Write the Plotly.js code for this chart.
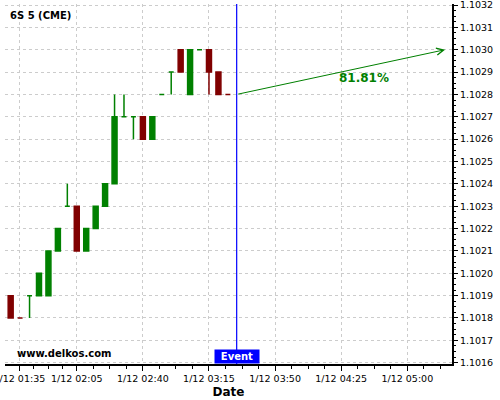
<!DOCTYPE html>
<html>
<head>
<meta charset="utf-8">
<script src="https://cdn.plot.ly/plotly-3.0.1.min.js"></script>
<style>html,body{margin:0;padding:0;background:#fff;}#chart{width:500px;height:400px;}</style>
</head>
<body>
<div id="chart"></div>
<script>
// ---- data ----
const times = [
  '2024-01-12 01:30','2024-01-12 01:35','2024-01-12 01:40','2024-01-12 01:45',
  '2024-01-12 01:50','2024-01-12 01:55','2024-01-12 02:00','2024-01-12 02:05',
  '2024-01-12 02:10','2024-01-12 02:15','2024-01-12 02:20','2024-01-12 02:25',
  '2024-01-12 02:30','2024-01-12 02:35','2024-01-12 02:40','2024-01-12 02:45',
  '2024-01-12 02:50','2024-01-12 02:55','2024-01-12 03:00','2024-01-12 03:05',
  '2024-01-12 03:10','2024-01-12 03:15','2024-01-12 03:20','2024-01-12 03:25'
];
const opens  = [1.1019,1.1018,1.1019,1.1019,1.1019,1.1021,1.1023,1.1023,1.1021,1.1022,1.1023,1.1024,
                1.1027,1.1027,1.1027,1.1026,1.1028,1.1029,1.1030,1.1028,1.1030,1.1030,1.1029,1.1028];
const highs  = [1.1019,1.1018,1.1019,1.1020,1.1021,1.1022,1.1024,1.1023,1.1022,1.1023,1.1024,1.1028,
                1.1028,1.1027,1.1027,1.1027,1.1028,1.1029,1.1030,1.1030,1.1030,1.1030,1.1029,1.1028];
const lows   = [1.1018,1.1018,1.1018,1.1019,1.1019,1.1021,1.1023,1.1021,1.1021,1.1022,1.1023,1.1024,
                1.1027,1.1026,1.1026,1.1026,1.1028,1.1028,1.1029,1.1028,1.1030,1.1028,1.1028,1.1028];
const closes = [1.1018,1.1018,1.1019,1.1020,1.1021,1.1022,1.1023,1.1021,1.1022,1.1023,1.1024,1.1027,
                1.1027,1.1027,1.1026,1.1027,1.1028,1.1029,1.1029,1.1030,1.1030,1.1029,1.1028,1.1028];
const direction = ['d','d','u','u','u','u','u','d','u','u','u','u',
                   'u','u','d','u','u','u','d','u','u','d','d','d'];

const eventTime = '2024-01-12 03:29:40';
const eventPrice = 1.1028;
const targetTime = '2024-01-12 05:20';
const targetPrice = 1.1030;
const probabilityText = '81.81%';

const xTickVals = ['2024-01-12 01:34:36','2024-01-12 02:05','2024-01-12 02:40','2024-01-12 03:15',
                   '2024-01-12 03:50','2024-01-12 04:25','2024-01-12 05:00'];
const xTickText = ['1/12 01:35','1/12 02:05','1/12 02:40','1/12 03:15','1/12 03:50','1/12 04:25','1/12 05:00'];

const GREEN = '#008000', RED = '#800000', BLUE = '#0000ff';

// minor ticks: each major interval split into quarters
function toMs(s) { return Date.parse(s.replace(' ', 'T') + 'Z'); }
const minorTickVals = [];
for (let i = 0; i < xTickVals.length - 1; i++) {
  const a = toMs(xTickVals[i]), b = toMs(xTickVals[i + 1]);
  for (let k = 1; k < 4; k++) minorTickVals.push(a + (b - a) * k / 4);
}
{
  const n = xTickVals.length;
  const a = toMs(xTickVals[n - 2]), b = toMs(xTickVals[n - 1]);
  for (let k = 1; k < 4; k++) minorTickVals.push(b + (b - a) * k / 4);
}

function subset(dir) {
  const idx = direction.map((d, i) => d === dir ? i : -1).filter(i => i >= 0);
  return {
    x: idx.map(i => times[i]), open: idx.map(i => opens[i]), high: idx.map(i => highs[i]),
    low: idx.map(i => lows[i]), close: idx.map(i => closes[i])
  };
}
function candleTrace(dir, color) {
  const s = subset(dir);
  return Object.assign({
    type: 'candlestick', whiskerwidth: 0, hoverinfo: 'skip',
    increasing: {line: {color: color, width: 1.5}, fillcolor: color},
    decreasing: {line: {color: color, width: 1.5}, fillcolor: color}
  }, s);
}

const data = [candleTrace('u', GREEN), candleTrace('d', RED)];

const gridStyle = {gridcolor: '#cccccc', griddash: 'dot', gridwidth: 1};

const layout = {
  width: 500, height: 400,
  margin: {l: 5, r: 48, t: 4, b: 36, pad: 0},
  paper_bgcolor: '#ffffff', plot_bgcolor: '#ffffff',
  showlegend: false,
  boxgap: 0.25,
  font: {family: 'DejaVu Sans', size: 9.5, color: '#000000'},
  title: {text: '<b>6S 5 (CME)</b>', x: 0.02, xanchor: 'left', y: 0.961, yanchor: 'middle',
          font: {size: 10, color: '#000000'}},
  xaxis: Object.assign({
    type: 'date', range: ['2024-01-12 01:27:00', '2024-01-12 05:23:40'],
    tickmode: 'array', tickvals: xTickVals, ticktext: xTickText,
    ticklabeloverflow: 'allow',
    ticks: 'outside', ticklen: 5, tickcolor: '#000000', tickwidth: 1,
    showline: true, linecolor: '#000000', linewidth: 2, mirror: false,
    showgrid: true, zeroline: false, fixedrange: true,
    rangeslider: {visible: false},
    minor: {tickmode: 'array', tickvals: minorTickVals, ticks: 'outside', ticklen: 3,
            tickcolor: '#000000', showgrid: false, gridcolor: 'rgba(0,0,0,0)'},
    title: {text: '<b>Date</b>', font: {size: 12}, standoff: 4}
  }, gridStyle),
  yaxis: Object.assign({
    side: 'right', range: [1.1015942, 1.1032045],
    tickmode: 'linear', tick0: 1.1016, dtick: 0.0001, tickformat: '.4f',
    ticklabeloverflow: 'allow',
    ticks: 'outside', ticklen: 4, tickcolor: '#000000',
    showline: true, linecolor: '#000000', linewidth: 2,
    showgrid: true, zeroline: false, fixedrange: true,
    minor: {dtick: 0.000025, ticks: 'outside', ticklen: 2, tickcolor: '#000000',
            showgrid: false, gridcolor: 'rgba(0,0,0,0)'}
  }, gridStyle),
  shapes: [
    {type: 'line', xref: 'x', yref: 'paper', x0: eventTime, x1: eventTime, y0: 0, y1: 1,
     line: {color: BLUE, width: 1.2}}
  ],
  annotations: [
    {x: targetTime, y: targetPrice, xref: 'x', yref: 'y', ax: eventTime, ay: eventPrice,
     axref: 'x', ayref: 'y', text: '', showarrow: true, arrowhead: 5, arrowsize: 1.4,
     arrowwidth: 1, arrowcolor: GREEN, standoff: 0, startstandoff: 0},
    {x: '2024-01-12 04:37', y: 1.102874, xref: 'x', yref: 'y', text: '<b>' + probabilityText + '</b>',
     showarrow: false, font: {size: 12, color: GREEN}, xanchor: 'center', yanchor: 'middle'},
    {x: eventTime, y: 0, xref: 'x', yref: 'paper', text: '<b>Event</b>', showarrow: false,
     xanchor: 'center', yanchor: 'bottom', bgcolor: BLUE, width: 44, height: 13, borderpad: 0,
     font: {size: 10, color: '#ffffff'}},
    {x: 0.0224, y: 0.028, xref: 'paper', yref: 'paper', text: '<b>www.delkos.com</b>', showarrow: false,
     xanchor: 'left', yanchor: 'middle', font: {size: 10, color: '#000000'}}
  ]
};

Plotly.newPlot('chart', data, layout, {staticPlot: true, displayModeBar: false});
</script>
</body>
</html>
